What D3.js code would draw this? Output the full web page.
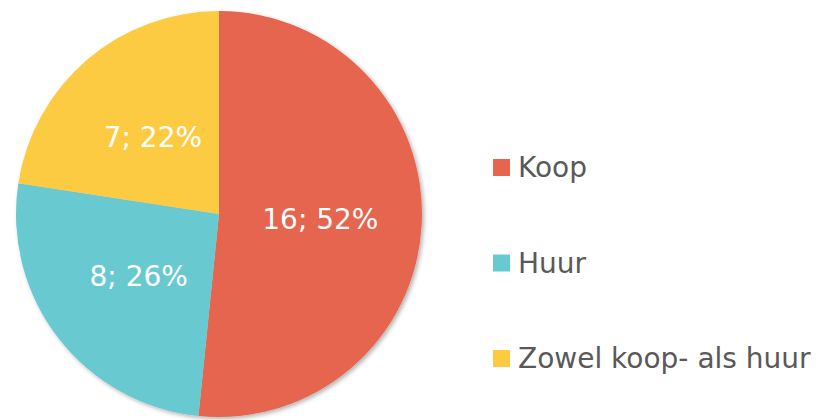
<!DOCTYPE html>
<html>
<head>
<meta charset="utf-8">
<script src="https://cdn.jsdelivr.net/npm/d3@7"></script>
<style>
  body { margin: 0; background: #fff; }
  svg { display: block; font-family: "DejaVu Sans", Verdana, sans-serif; }
</style>
</head>
<body>
<svg id="pie" width="819" height="420"></svg>
<script>
const categories = ["Koop", "Huur", "Zowel koop- als huur"];
const values = [16, 8, 7];
const percentLabels = ["52%", "26%", "22%"];
const colors = ["#E5654F", "#68C9D0", "#FDCB42"];

function drawPie() {
  const svg = d3.select("#pie");
  svg.selectAll("*").remove();

  const cx = 219, cy = 214, radius = 203;

  const defs = svg.append("defs");
  defs.append("filter")
    .attr("id", "shadow")
    .attr("x", "-10%").attr("y", "-10%")
    .attr("width", "120%").attr("height", "120%")
    .append("feDropShadow")
    .attr("dx", 2).attr("dy", 2)
    .attr("stdDeviation", 2)
    .attr("flood-color", "#000")
    .attr("flood-opacity", 0.3);

  const data = categories.map((c, i) => ({ name: c, value: values[i], pct: percentLabels[i], color: colors[i] }));

  const pie = d3.pie().sort(null).value(d => d.value);
  const arc = d3.arc().innerRadius(0).outerRadius(radius);
  const labelArc = d3.arc().innerRadius(radius * 0.5).outerRadius(radius * 0.5);

  const g = svg.append("g").attr("transform", `translate(${cx},${cy})`);

  g.append("g")
    .attr("filter", "url(#shadow)")
    .selectAll("path")
    .data(pie(data))
    .enter()
    .append("path")
    .attr("d", arc)
    .attr("fill", d => d.data.color);

  g.selectAll("text")
    .data(pie(data))
    .enter()
    .append("text")
    .attr("transform", d => `translate(${labelArc.centroid(d)})`)
    .attr("text-anchor", "middle")
    .attr("dy", "0.36em")
    .attr("fill", "#fff")
    .style("font-size", "28px")
    .text(d => `${d.data.value}; ${d.data.pct}`);

  // legend
  const legend = svg.append("g").attr("transform", "translate(493,0)");
  const ly = d3.scalePoint().domain(categories).range([167, 358]);

  const item = legend.selectAll("g")
    .data(data)
    .enter()
    .append("g")
    .attr("transform", d => `translate(0,${ly(d.name)})`);

  item.append("rect")
    .attr("x", 0).attr("y", -8)
    .attr("width", 17).attr("height", 17)
    .attr("fill", d => d.color);

  item.append("text")
    .attr("x", 25)
    .attr("dy", "0.36em")
    .attr("fill", "#595959")
    .style("font-size", "28px")
    .text(d => d.name);
}

drawPie();
</script>
</body>
</html>
